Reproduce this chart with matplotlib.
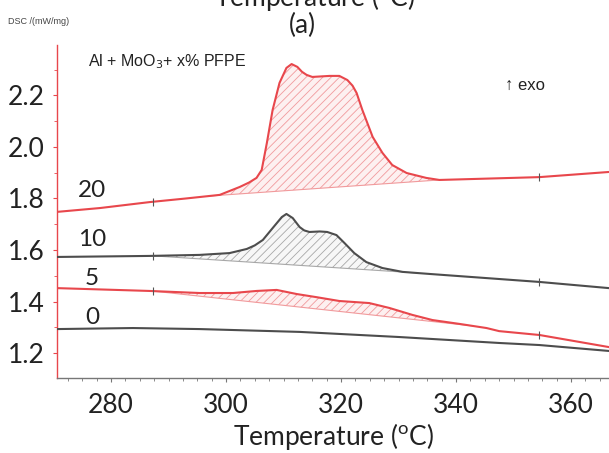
import numpy as np
import matplotlib
matplotlib.use('Agg')
import matplotlib.pyplot as plt
from matplotlib.ticker import MultipleLocator

# DSC curves, Al + MoO3 + x% PFPE
t20 = [270.6, 278.1, 286.7, 293.0, 298.9, 302.4, 304.0, 305.3, 306.2, 307.1, 308.1, 309.3, 310.5,
       311.4, 312.4, 313.2, 314.0, 315.0, 318.0, 319.7, 321.1, 322.0, 322.7, 323.7, 325.5, 327.2,
       328.9, 331.4, 334.8, 337.1, 349.8, 354.5, 366.6]
v20 = [1.748, 1.763, 1.786, 1.800, 1.814, 1.845, 1.862, 1.880, 1.911, 2.016, 2.144, 2.249, 2.307,
       2.322, 2.311, 2.292, 2.280, 2.272, 2.276, 2.276, 2.260, 2.238, 2.210, 2.144, 2.039, 1.977,
       1.930, 1.899, 1.880, 1.872, 1.880, 1.883, 1.903]

t10 = [270.6, 286.7, 295.4, 300.6, 303.6, 305.0, 306.4, 308.1, 309.7, 310.5, 311.6, 312.8, 313.6,
       314.5, 316.3, 317.6, 319.2, 320.6, 322.3, 324.4, 327.2, 330.7, 335.4, 354.5, 366.6]
v10 = [1.573, 1.577, 1.581, 1.588, 1.604, 1.618, 1.639, 1.685, 1.728, 1.740, 1.724, 1.689, 1.676,
       1.670, 1.672, 1.670, 1.658, 1.627, 1.588, 1.553, 1.530, 1.515, 1.507, 1.476, 1.452]

t5 = [270.6, 286.7, 295.4, 301.2, 305.3, 308.8, 312.3, 315.7, 319.7, 324.9, 328.4, 332.4, 335.9,
      340.6, 345.3, 347.5, 354.5, 366.6]
v5 = [1.452, 1.441, 1.433, 1.433, 1.441, 1.445, 1.429, 1.417, 1.402, 1.394, 1.375, 1.348, 1.328,
      1.313, 1.297, 1.285, 1.270, 1.223]

t0 = [270.6, 283.8, 295.4, 312.8, 330.2, 347.5, 354.5, 366.6]
v0 = [1.293, 1.297, 1.293, 1.282, 1.262, 1.239, 1.231, 1.208]

# integration limits (start, end) of each peak
lim20 = [297.0, 337.1]
lim10 = [287.3, 333.0]
lim5 = [287.3, 342.9]

labels = ['20', '10', '5', '0']
label_y = [1.830, 1.640, 1.488, 1.336]
cursor_t = [287.3, 354.5]

red = '#e8474c'
grey = '#4d4d4d'

plt.rcParams['hatch.linewidth'] = 0.6

fig = plt.figure(figsize=(6.09, 4.53), dpi=100)
ax = fig.add_axes([57/609, 1-378/453, 1-57/609, (378-45)/453])


def draw(t, v, col, lim=None, hcol=None, fcol=None, marks=True):
    t = np.array(t)
    v = np.array(v)
    ax.plot(t, v, color=col, lw=1.5, zorder=3, solid_joinstyle='round')
    if lim is not None:
        tt = np.linspace(lim[0], lim[1], 300)
        vv = np.interp(tt, t, v)
        base = np.interp(tt, lim, [vv[0], vv[-1]])
        ax.fill_between(tt, base, vv, facecolor=fcol, edgecolor=hcol, hatch='////', lw=0, zorder=1)
        ax.plot(lim, [vv[0], vv[-1]], color=hcol, lw=0.8, zorder=2)
    if marks:
        ax.plot(cursor_t, np.interp(cursor_t, t, v), ls='none', marker='|', ms=6, mew=0.8,
                color='#555555', zorder=4)


draw(t20, v20, red, lim20, '#f19a9c', '#fdf0f0')
draw(t10, v10, grey, lim10, '#a8a8a8', '#f7f7f7')
draw(t5, v5, red, lim5, '#f19a9c', '#fdf0f0')
draw(t0, v0, grey, marks=False)

for lab, yy in zip(labels, label_y):
    ax.text(276.7, yy, lab, fontsize=17.5, family='Lato', color='#222222', ha='center', va='center')

ax.set_xlim(270.6, 366.6)
ax.set_ylim(1.103, 2.396)
ax.xaxis.set_major_locator(MultipleLocator(20))
ax.xaxis.set_minor_locator(MultipleLocator(2.5))
ax.yaxis.set_major_locator(MultipleLocator(0.2))
ax.yaxis.set_minor_locator(MultipleLocator(0.1))
ax.set_yticks([1.2, 1.4, 1.6, 1.8, 2.0, 2.2])
ax.set_yticklabels(['1.2', '1.4', '1.6', '1.8', '2.0', '2.2'])

for s in ['top', 'right']:
    ax.spines[s].set_visible(False)
ax.spines['left'].set_color(red)
ax.spines['left'].set_linewidth(1.0)
ax.spines['bottom'].set_color('#777777')
ax.spines['bottom'].set_linewidth(1.0)

ax.tick_params(axis='y', which='both', colors=red, labelcolor='#222222', labelsize=19, pad=6)
ax.tick_params(axis='y', which='major', length=3, width=0.8)
ax.tick_params(axis='y', which='minor', length=2, width=0.6)
ax.tick_params(axis='x', which='both', colors='#777777', labelcolor='#222222', labelsize=19, pad=8)
ax.tick_params(axis='x', which='major', length=3, width=0.8)
ax.tick_params(axis='x', which='minor', length=2, width=0.6)
for lab in ax.get_xticklabels() + ax.get_yticklabels():
    lab.set_family('Lato')

ax.set_xlabel(r'Temperature ($^{\mathregular{o}}$C)', fontsize=19, family='Lato', color='#222222', labelpad=2)

fig.text(8/609, 1-21/453, 'DSC /(mW/mg)', fontsize=6.5, family='Liberation Sans', color='#444444', va='center')
fig.text(302/609, 1-25/453, '(a)', fontsize=19, family='Lato', color='#222222', ha='center', va='center')
# title of the panel above, cut by the top edge as in the source figure
fig.text(314/609, 1-6/453, r'Temperature ($^{\mathregular{o}}$C)', fontsize=19, family='Lato',
         color='#222222', ha='center', va='baseline')
fig.text(88/609, 1-62/453, r'Al + MoO$_3$+ x% PFPE', fontsize=11.5, family='Liberation Sans',
         color='#222222', va='center')
fig.text(505/609, 1-85/453, '↑ exo', fontsize=12, family=['Liberation Sans', 'DejaVu Sans'],
         color='#222222', va='center')

fig.savefig('out.png', dpi=100)
